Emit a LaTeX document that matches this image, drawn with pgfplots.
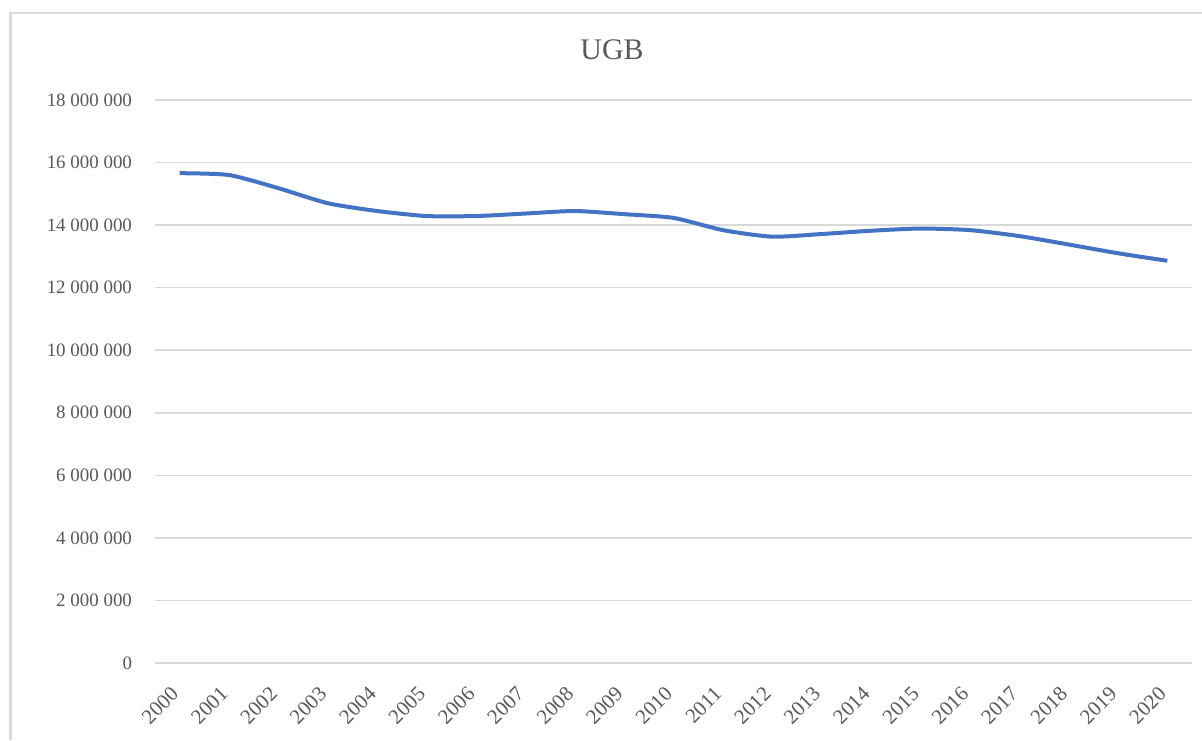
\documentclass[border=0pt]{standalone}
\usepackage{fontspec}
\setmainfont{Liberation Serif}
\usepackage{pgfplots}
\pgfplotsset{compat=1.18}
\definecolor{linebl}{HTML}{4472C4}
\definecolor{gridg}{HTML}{D9D9D9}
\definecolor{txtg}{HTML}{595959}
\begin{document}
\begin{tikzpicture}[x=1bp,y=1bp]
\useasboundingbox (0,0) rectangle (601,370);
\fill[white] (0,0) rectangle (601,370);
\draw[gridg, line width=1.2bp] (5.3,0) -- (5.3,363.5) -- (601,363.5);
\node[txtg, font=\fontsize{15}{18}\selectfont] at (306,345) {UGB};
\begin{axis}[
  at={(77.5bp,38.5bp)}, anchor=south west,
  scale only axis, width=518.5bp, height=281.5bp,
  xmin=-0.5, xmax=20.5, ymin=0, ymax=18000000,
  axis line style={draw=none},
  ytick={0,2000000,4000000,6000000,8000000,10000000,12000000,14000000,16000000,18000000},
  yticklabels={0,2 000 000,4 000 000,6 000 000,8 000 000,10 000 000,12 000 000,14 000 000,16 000 000,18 000 000},
  xtick={0,...,20},
  xticklabels={2000,2001,2002,2003,2004,2005,2006,2007,2008,2009,2010,2011,2012,2013,2014,2015,2016,2017,2018,2019,2020},
  major tick length=0pt,
  ymajorgrids, grid style={gridg, line width=0.8bp},
  tick label style={txtg, font=\fontsize{9.5}{11}\selectfont},
  yticklabel style={xshift=-8bp},
  xticklabel style={rotate=45, anchor=north east, xshift=-8bp, yshift=-1bp, font=\fontsize{10.5}{12}\selectfont},
  scaled y ticks=false,
  clip=false,
]
\addplot[linebl, line width=2bp, smooth, tension=0.4] coordinates {
(0,15660000) (1,15600000) (2,15180000) (3,14700000) (4,14450000)
(5,14290000) (6,14290000) (7,14370000) (8,14450000) (9,14350000)
(10,14230000) (11,13840000) (12,13630000) (13,13715000) (14,13820000)
(15,13890000) (16,13840000) (17,13650000) (18,13380000) (19,13100000)
(20,12860000)
};
\end{axis}
\end{tikzpicture}
\end{document}
